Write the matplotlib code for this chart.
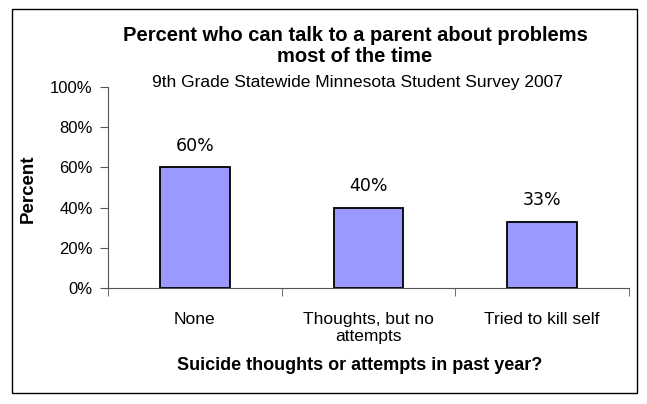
import matplotlib
matplotlib.use("Agg")
import matplotlib.pyplot as plt
from matplotlib.patches import Rectangle
from matplotlib.ticker import FixedLocator

plt.rcParams['font.family'] = ['Liberation Sans', 'DejaVu Sans']

categories = ["None", "Thoughts, but no\nattempts", "Tried to kill self"]
values = [60, 40, 33]
value_labels = ["60%", "40%", "33%"]
yticks = [0, 20, 40, 60, 80, 100]
ytick_labels = ["0%", "20%", "40%", "60%", "80%", "100%"]

fig = plt.figure(figsize=(6.47, 4.04), dpi=100)
fig.patch.set_facecolor("white")
fig.patches.append(Rectangle((12/647, 1 - 393/404), 625/647, 384/404,
                             transform=fig.transFigure, fill=False,
                             edgecolor="black", linewidth=1.0))

ax = fig.add_axes([108/647, 1 - 288/404, 521/647, 201/404])
x = list(range(len(categories)))
ax.bar(x, values, width=0.4, color="#9999FF", edgecolor="black", linewidth=1.3, zorder=3)
for xi, v, lab in zip(x, values, value_labels):
    ax.annotate(lab, (xi, v), xytext=(0, 9), textcoords="offset points",
                ha="center", va="bottom", fontsize=12.5, family="DejaVu Sans")

ax.set_xlim(-0.5, 2.5)
ax.set_ylim(0, 100)
ax.set_yticks(yticks)
ax.set_yticklabels(ytick_labels, fontsize=12)
ax.set_xticks(x)
ax.set_xticklabels(categories, fontsize=12.5, linespacing=1.2)
ax.tick_params(axis="x", length=0, pad=17)
ax.xaxis.set_minor_locator(FixedLocator([-0.5, 0.5, 1.5, 2.5]))
ax.tick_params(axis="x", which="minor", length=6, color="#555555")
ax.tick_params(axis="y", length=6, color="#555555", pad=5)
for s in ["top", "right"]:
    ax.spines[s].set_visible(False)
for s in ["left", "bottom"]:
    ax.spines[s].set_color("#555555")

fig.text(355/647, 1 - 46/404, "Percent who can talk to a parent about problems\nmost of the time",
         ha="center", va="center", fontsize=14.5, fontweight="bold", linespacing=1.15)
fig.text(357/647, 1 - 83/404, "9th Grade Statewide Minnesota Student Survey 2007",
         ha="center", va="center", fontsize=12.5)
fig.text(28/647, 1 - 189/404, "Percent", rotation=90, ha="center", va="center",
         fontsize=13.5, fontweight="bold")
fig.text(360/647, 1 - 365/404, "Suicide thoughts or attempts in past year?",
         ha="center", va="center", fontsize=13, fontweight="bold")

fig.savefig("out.png", dpi=100, facecolor="white")
